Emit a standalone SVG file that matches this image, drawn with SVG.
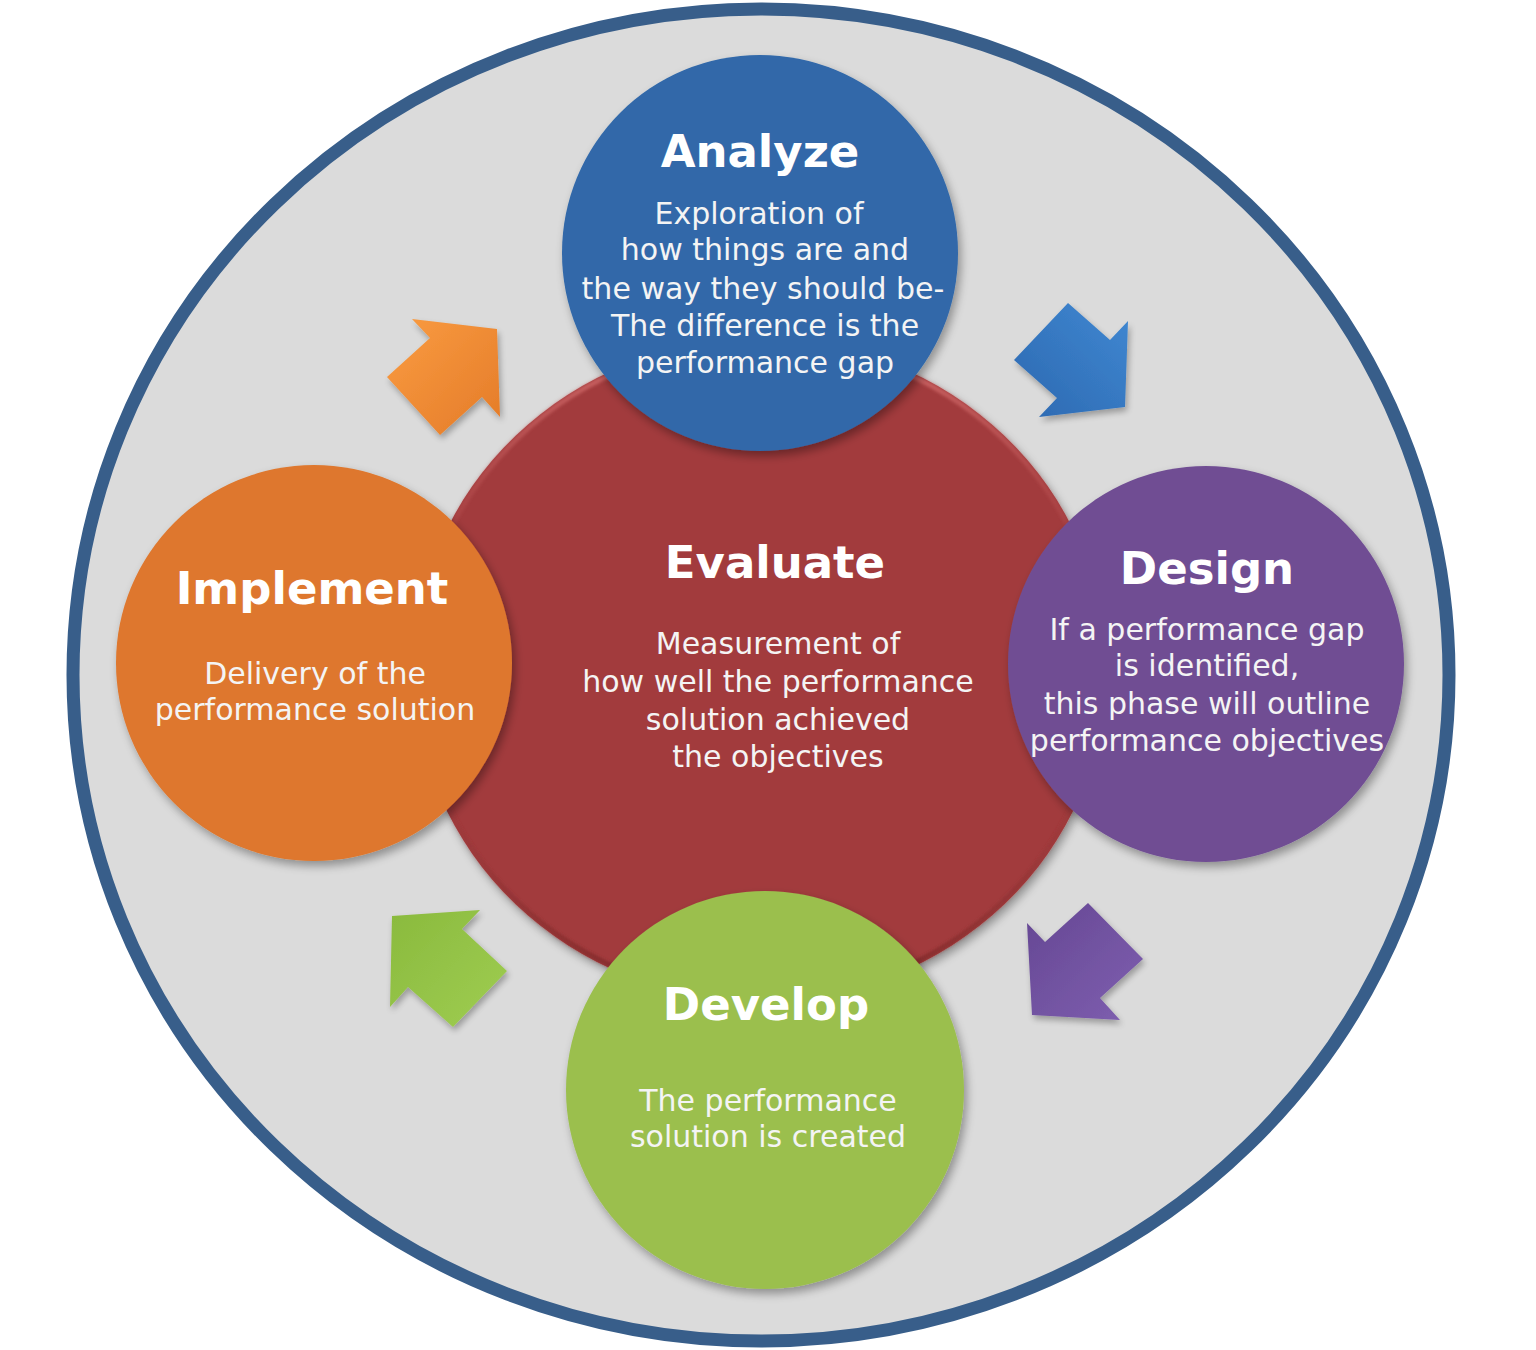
<svg xmlns="http://www.w3.org/2000/svg" width="1536" height="1350" viewBox="0 0 1536 1350">
<defs>
<style>
.title{font-family:"DejaVu Sans","Liberation Sans",sans-serif;font-weight:bold;font-size:45px;fill:#ffffff;text-anchor:middle}
.body{font-family:"DejaVu Sans","Liberation Sans",sans-serif;font-size:30px;fill:#f4f4f4;text-anchor:middle}
</style>
<filter id="sh" x="-20%" y="-20%" width="140%" height="140%">
<feGaussianBlur in="SourceAlpha" stdDeviation="5"/>
<feOffset dx="3" dy="5" result="b"/>
<feComponentTransfer><feFuncA type="linear" slope="0.35"/></feComponentTransfer>
<feMerge><feMergeNode/><feMergeNode in="SourceGraphic"/></feMerge>
</filter>
<filter id="ash" x="-30%" y="-30%" width="160%" height="160%">
<feGaussianBlur in="SourceAlpha" stdDeviation="3"/>
<feOffset dx="2" dy="4"/>
<feComponentTransfer><feFuncA type="linear" slope="0.3"/></feComponentTransfer>
<feMerge><feMergeNode/><feMergeNode in="SourceGraphic"/></feMerge>
</filter>
<filter id="soft"><feGaussianBlur stdDeviation="1.5"/></filter>
<linearGradient id="bevel" x1="0" y1="0" x2="0" y2="1">
<stop offset="0" stop-color="#d26a6a"/>
<stop offset="0.45" stop-color="#a23b3c" stop-opacity="0"/>
<stop offset="0.6" stop-color="#a23b3c" stop-opacity="0"/>
<stop offset="1" stop-color="#7e2829"/>
</linearGradient>
<linearGradient id="gO" x1="0" y1="0" x2="1" y2="1"><stop offset="0" stop-color="#fa9c42"/><stop offset="1" stop-color="#e47b28"/></linearGradient>
<linearGradient id="gB" x1="0" y1="1" x2="1" y2="0"><stop offset="0" stop-color="#2c68b0"/><stop offset="1" stop-color="#4088d2"/></linearGradient>
<linearGradient id="gP" x1="0" y1="0" x2="1" y2="1"><stop offset="0" stop-color="#654793"/><stop offset="1" stop-color="#7f5fb0"/></linearGradient>
<linearGradient id="gG" x1="0" y1="0" x2="1" y2="1"><stop offset="0" stop-color="#8aba3d"/><stop offset="1" stop-color="#9fcd52"/></linearGradient>
</defs>
<rect width="1536" height="1350" fill="#ffffff"/>
<ellipse id="ring" cx="761" cy="675" rx="688" ry="666" fill="#dbdbdb" stroke="#385e8a" stroke-width="13"/>

<g id="evaluate">
<ellipse cx="760" cy="670" rx="346" ry="331" fill="#a23b3c" filter="url(#sh)"/>
<ellipse cx="760" cy="670" rx="343" ry="328" fill="none" stroke="url(#bevel)" stroke-width="5" filter="url(#soft)"/>
<text class="title" x="775" y="578">Evaluate</text>
<text class="body" x="778" y="654">Measurement of</text>
<text class="body" x="778" y="692">how well the performance</text>
<text class="body" x="778" y="730">solution achieved</text>
<text class="body" x="778" y="767">the objectives</text>
</g>

<g id="analyze">
<circle cx="760" cy="253" r="198" fill="#3068a9" filter="url(#sh)"/>
<text class="title" x="760" y="167">Analyze</text>
<text class="body" x="759" y="224">Exploration of</text>
<text class="body" x="765" y="260">how things are and</text>
<text class="body" x="763" y="299">the way they should be-</text>
<text class="body" x="765" y="336">The difference is the</text>
<text class="body" x="765" y="373">performance gap</text>
</g>

<g id="design">
<circle cx="1206" cy="664" r="198" fill="#704e93" filter="url(#sh)"/>
<text class="title" x="1207" y="584">Design</text>
<text class="body" x="1207" y="640">If a performance gap</text>
<text class="body" x="1207" y="676">is identified,</text>
<text class="body" x="1207" y="714">this phase will outline</text>
<text class="body" x="1207" y="751">performance objectives</text>
</g>

<g id="develop">
<circle cx="765" cy="1090" r="199" fill="#9bbf4e" filter="url(#sh)"/>
<text class="title" x="766" y="1020">Develop</text>
<text class="body" x="768" y="1111">The performance</text>
<text class="body" x="768" y="1147">solution is created</text>
</g>

<g id="implement">
<circle cx="314" cy="663" r="198" fill="#de772d" filter="url(#sh)"/>
<text class="title" x="312" y="604">Implement</text>
<text class="body" x="315" y="684">Delivery of the</text>
<text class="body" x="315" y="720">performance solution</text>
</g>

<g id="connectors">
<polygon points="412,319 497,329 500,417 482,397 440,435 387,377 430,338" fill="url(#gO)" filter="url(#ash)"/>
<polygon points="1068,303 1110,340 1128,321 1125,407 1039,417 1057,398 1014,360" fill="url(#gB)" filter="url(#ash)"/>
<polygon points="1027,923 1045,942 1088,903 1143,959 1100,998 1120,1020 1032,1015" fill="url(#gP)" filter="url(#ash)"/>
<polygon points="480,910 462,929 507,971 453,1027 408,987 390,1007 392,916" fill="url(#gG)" filter="url(#ash)"/>
</g>
</svg>
